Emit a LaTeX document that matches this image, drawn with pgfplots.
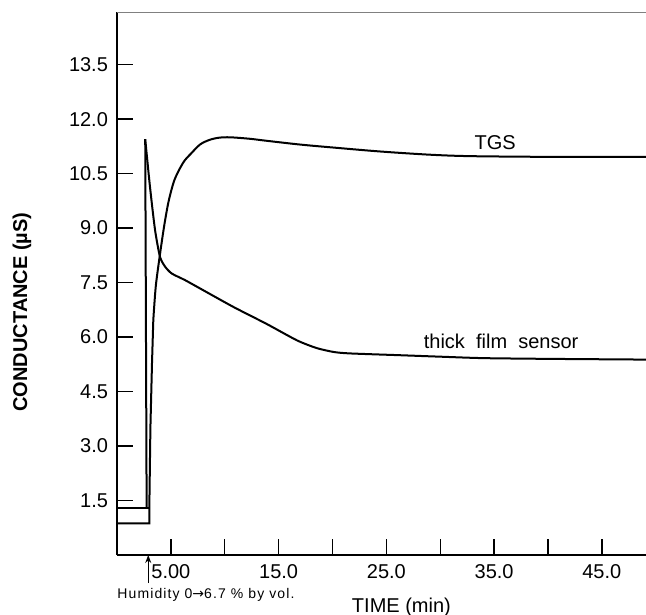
\documentclass[border=0pt]{standalone}
\usepackage{fontspec}
\setmainfont{Liberation Sans}
\newfontfamily\arrowfont{DejaVu Sans}
\usepackage{pgfplots}
\pgfplotsset{compat=1.18}
\usetikzlibrary{arrows.meta}
\begin{document}
\begin{tikzpicture}
\begin{axis}[
  scale only axis,
  width=264.5pt, height=271.5pt,
  xmin=0, xmax=49.1, ymin=0, ymax=14.95,
  axis lines=left,
  axis line style={-, line width=0.8pt},
  clip=false,
  tick align=inside,
  major tick length=8pt,
  tick style={line width=0.7pt, black},
  xtick={5,10,15,20,25,30,35,40,45},
  xticklabels={5.00,,15.0,,25.0,,35.0,,45.0},
  ytick={1.5,3,4.5,6,7.5,9,10.5,12,13.5},
  yticklabels={1.5,3.0,4.5,6.0,7.5,9.0,10.5,12.0,13.5},
  /pgf/number format/assume math mode=true,
  tick label style={font=\fontsize{10}{12}\selectfont},
  xticklabel style={yshift=-1pt},
  yticklabel style={xshift=-1pt},
]
\draw[line width=0.4pt, gray] (rel axis cs:0,1) -- (rel axis cs:1,1);
% TGS
\addplot[black, line width=1pt] coordinates {
(0,0.87) (3.0,0.87) (3.0,1.29) (3.1,3.5) (3.25,5.3) (3.37,6.47)};
\addplot[black, line width=1pt, smooth, tension=0.5] coordinates {
(3.37,6.47) (3.6,7.4) (4.0,8.3) (4.4,9.1) (4.8,9.75) (5.3,10.3) (5.85,10.65)
(6.3,10.87) (6.8,11.03) (7.7,11.3) (8.6,11.43) (9.5,11.49) (10.5,11.5)
(12.3,11.46) (14,11.4) (17,11.3) (20,11.22) (24.4,11.11) (29.1,11.02)
(33,10.98) (41,10.96) (49.1,10.96)};
% thick film sensor
\addplot[black, line width=1pt] coordinates {
(0,1.29) (3.0,1.29)};
\addplot[black, line width=1pt] coordinates {
(2.75,1.29) (2.62,11.45)};
\addplot[black, line width=1pt, smooth, tension=0.4] coordinates {
(2.62,11.45) (3.06,10.14) (3.53,8.95) (3.99,8.21) (4.46,7.94) (5.08,7.75)
(6.3,7.57) (7.7,7.34) (10.8,6.83) (13.9,6.36) (16.7,5.91) (18.5,5.70)
(20.1,5.59) (21.6,5.55) (26.3,5.50) (30,5.46) (34,5.42) (40,5.40) (49.1,5.38)};
\node[font=\fontsize{10}{12}\selectfont] at (axis cs:35.1,11.34) {TGS};
\node[font=\fontsize{10}{12}\selectfont] at (axis cs:35.65,5.87) {thick~~film~~sensor};
\node[font=\fontsize{10}{12}\selectfont] at ([yshift=-26pt]axis cs:26.4,0) {TIME (min)};
\node[font=\fontsize{7}{9}\selectfont\addfontfeature{LetterSpace=8}, anchor=west, inner sep=0pt] at ([yshift=-20pt]axis cs:0,0) {Humidity 0{\arrowfont→}6.7 \% by vol.};
\draw[-{Stealth[length=4pt,width=3pt]}, line width=0.6pt] ([yshift=-14pt]axis cs:2.9,0) -- (axis cs:2.9,0);
\node[font=\fontsize{10}{12}\selectfont\bfseries, rotate=90] at ([xshift=-47.5pt]axis cs:0,6.69) {CONDUCTANCE (µS)};
\coordinate (sw) at (rel axis cs:0,0);
\coordinate (ne) at (rel axis cs:1,1);
\end{axis}
\pgfresetboundingbox
\path[use as bounding box] ([xshift=-58.5pt,yshift=-29.5pt]sw) rectangle ([yshift=6pt]ne);
\end{tikzpicture}
\end{document}
